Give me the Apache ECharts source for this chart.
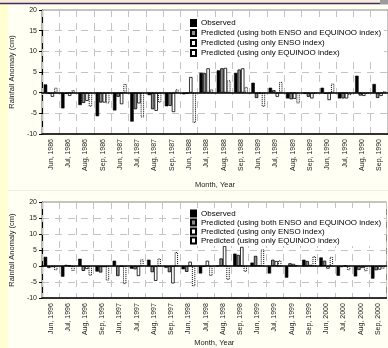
<!DOCTYPE html>
<html>
<head>
<meta charset="utf-8">
<script src="https://cdn.jsdelivr.net/npm/echarts@6/dist/echarts.min.js"></script>
<style>
  html, body { margin: 0; padding: 0; background: #FFFFF4; }
  #chart { width: 388px; height: 348px; }
</style>
</head>
<body>
<div id="chart"></div>
<script>
// Monsoon months, two periods
const monthsA = ['Jun, 1986', 'Jul, 1986', 'Aug, 1986', 'Sep, 1986', 'Jun, 1987', 'Jul, 1987', 'Aug, 1987', 'Sep, 1987',
  'Jun, 1988', 'Jul, 1988', 'Aug, 1988', 'Sep, 1988', 'Jun, 1989', 'Jul, 1989', 'Aug, 1989', 'Sep, 1989',
  'Jun, 1990', 'Jul, 1990', 'Aug, 1990', 'Sep, 1990'];
const monthsB = ['Jun, 1996', 'Jul, 1996', 'Aug, 1996', 'Sep, 1996', 'Jun, 1997', 'Jul, 1997', 'Aug, 1997', 'Sep, 1997',
  'Jun, 1998', 'Jul, 1998', 'Aug, 1998', 'Sep, 1998', 'Jun, 1999', 'Jul, 1999', 'Aug, 1999', 'Sep, 1999',
  'Jun, 2000', 'Jul, 2000', 'Aug, 2000', 'Sep, 2000'];

// Rainfall anomaly (cm), 1986-1990
const observedA = [2.0, -3.8, -3.0, -5.7, -4.3, -7.0, -0.6, -3.3, -0.4, 4.8, 5.4, 4.8, 2.4, 1.2, -1.4, -0.3, 1.2, -1.4, 4.1, 2.1];
const bothA     = [-0.3, -0.3, -2.5, -2.4, -1.0, -4.0, -4.0, -3.2, -0.3, 4.7, 5.9, 5.6, -1.3, 0.6, -1.6, -1.0, -0.3, -1.4, -0.7, -1.3];
const ensoA     = [-1.0, -0.8, -2.0, -2.4, -2.8, -2.6, -4.4, -4.7, 3.8, 5.9, 6.0, 5.9, -0.2, -1.0, -1.5, -1.4, -1.8, -1.4, -0.8, -0.8];
const equinooA  = [1.2, 0.6, -3.4, -2.6, 2.1, -6.0, -2.4, 0.8, -7.3, 0.8, 3.0, 1.4, -3.4, 2.6, -2.6, -0.2, 2.2, -0.6, -0.3, 0.3];

// Rainfall anomaly (cm), 1996-2000
const observedB = [2.9, -3.3, 2.3, -1.7, 1.7, -0.8, 2.0, -0.5, -1.0, -2.3, 0.1, 3.9, 1.1, -2.3, -3.6, 2.0, 2.7, -3.0, -3.2, -3.9];
const bothB     = [-0.6, 0.4, -1.5, -2.0, -3.1, -1.0, -1.9, -1.9, -1.8, -0.2, 2.4, 3.5, 3.2, 2.0, 0.9, 1.6, 1.7, -0.3, -1.2, -1.3];
const ensoB     = [-0.3, 0.2, -0.9, -0.3, -0.1, -3.1, -4.6, -5.4, 1.4, 1.7, 6.3, 6.0, 0.2, 1.6, 0.7, 0.4, -0.8, 0.2, -0.6, -1.1];
const equinooB  = [-1.3, -1.5, -3.0, -4.5, -5.6, 2.1, 2.4, 4.4, -6.3, -3.1, -4.3, -1.8, 5.2, 1.8, 0.3, 3.1, 2.9, -1.3, -1.6, -0.8];

const yTicks = { min: -10, max: 20, interval: 5 };

const seriesNames = [
  'Observed',
  'Predicted (using both ENSO and EQUINOO index)',
  'Predicted (using only ENSO index)',
  'Predicted (using only EQUINOO index)'
];

const FONT = 'Liberation Sans, Arial, sans-serif';

const barStyles = [
  { color: '#000000', borderColor: '#000000', borderWidth: 0.6 },
  { color: '#8C8C8C', borderColor: '#000000', borderWidth: 0.8 },
  { color: '#FFFFFF', borderColor: '#000000', borderWidth: 0.8 },
  { color: '#FFFFFF', borderColor: '#000000', borderWidth: 1, borderType: 'dotted' }
];

function makeSeries(idx, sets) {
  return sets.map((data, i) => ({
    name: seriesNames[i],
    type: 'bar',
    xAxisIndex: idx,
    yAxisIndex: idx,
    data: data,
    barWidth: '20%',
    barGap: '0%',
    itemStyle: barStyles[i],
    emphasis: { disabled: true },
    animation: false
  }));
}

// Category axis with month labels along the bottom edge of the plot
function xAxis(idx, cats, nameGap) {
  return {
    type: 'category',
    gridIndex: idx,
    data: cats,
    position: 'bottom',
    name: 'Month, Year',
    nameLocation: 'middle',
    nameGap: nameGap,
    nameTextStyle: { fontFamily: FONT, fontSize: 7.5, color: '#222' },
    axisLine: { onZero: false, lineStyle: { color: '#000', width: 1.5 } },
    axisTick: { show: false },
    axisLabel: { interval: 0, rotate: 90, fontFamily: FONT, fontSize: 7, color: '#222', margin: 5 },
    splitLine: { show: true, interval: 0, lineStyle: { color: '#C4C4C4', width: 1, type: [7, 6] } },
    z: 3
  };
}

// Unlabelled axis that draws the zero baseline
function zeroAxis(idx, cats) {
  return {
    type: 'category',
    gridIndex: idx,
    data: cats,
    position: 'top',
    axisLine: { onZero: true, lineStyle: { color: '#000', width: 1.5 } },
    axisTick: { show: false },
    axisLabel: { show: false },
    splitLine: { show: false },
    z: 5
  };
}

function yAxis(idx) {
  return {
    type: 'value',
    gridIndex: idx,
    min: yTicks.min,
    max: yTicks.max,
    interval: yTicks.interval,
    name: 'Rainfall Anomaly (cm)',
    nameLocation: 'middle',
    nameGap: 19,
    nameTextStyle: { fontFamily: FONT, fontSize: 7.5, color: '#222' },
    axisLine: { show: true, lineStyle: { color: '#000', width: 1.2 } },
    axisTick: { show: true, length: 3, lineStyle: { color: '#000' } },
    axisLabel: { fontFamily: FONT, fontSize: 7, color: '#222', margin: 5 },
    splitLine: { show: true, lineStyle: { color: '#C4C4C4', width: 1, type: [7, 6] } }
  };
}

function legend(top, lineH) {
  return {
    orient: 'vertical',
    left: 189,
    top: top,
    icon: 'rect',
    itemWidth: 5,
    itemHeight: 6,
    itemGap: 0,
    padding: [1, 3, 1, 1],
    backgroundColor: '#FFFFFF',
    selectedMode: false,
    data: seriesNames,
    textStyle: { fontFamily: FONT, fontSize: 8, color: '#000', lineHeight: lineH }
  };
}

const chart = echarts.init(document.getElementById('chart'), null, { renderer: 'canvas' });
chart.setOption({
  backgroundColor: '#FFFFF4',
  animation: false,
  graphic: [
    { type: 'rect', shape: { x: 0, y: 0, width: 8, height: 348 }, style: { fill: '#FFFFD2' }, z: -10 },
    { type: 'rect', shape: { x: 0, y: 0, width: 388, height: 3 }, style: { fill: '#F3EEDC' }, z: -10 },
    { type: 'line', shape: { x1: 0, y1: 3.5, x2: 388, y2: 3.5 }, style: { stroke: '#4A2C55', lineWidth: 1.5 }, z: -5 },
    { type: 'rect', shape: { x: 380, y: 0, width: 8, height: 4 }, style: { fill: '#9C9C9C' }, z: -4 },
    { type: 'line', shape: { x1: 8, y1: 190.5, x2: 388, y2: 190.5 }, style: { stroke: '#EFEFDD', lineWidth: 1 }, z: -5 }
  ],
  grid: [
    { left: 36.3, top: 10, width: 355, height: 124, show: true, backgroundColor: '#FFFFFF', borderColor: '#8A8A8A', borderWidth: 1 },
    { left: 36.5, top: 202, width: 350, height: 101, show: true, backgroundColor: '#FFFFFF', borderColor: '#8A8A8A', borderWidth: 1 }
  ],
  xAxis: [xAxis(0, monthsA, 47), xAxis(1, monthsB, 36), zeroAxis(0, monthsA), zeroAxis(1, monthsB)],
  yAxis: [yAxis(0), yAxis(1)],
  legend: [legend(17, 10), legend(208, 9)],
  series: [].concat(
    makeSeries(0, [observedA, bothA, ensoA, equinooA]),
    makeSeries(1, [observedB, bothB, ensoB, equinooB])
  )
});
</script>
</body>
</html>
